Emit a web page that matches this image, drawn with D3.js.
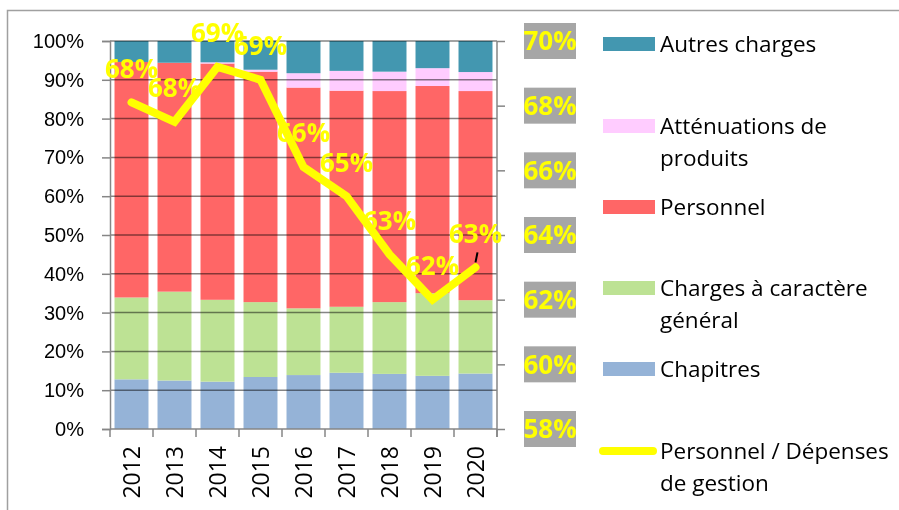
<!DOCTYPE html>
<html>
<head>
<meta charset="utf-8">
<script src="https://cdn.jsdelivr.net/npm/d3@7"></script>
<style>
  body { margin: 0; background: #fff; }
  svg { display: block; font-family: "Open Sans", sans-serif; }
</style>
</head>
<body>
<div id="container"></div>
<script>
const width = 899;
const height = 510;

// data (percent of total)
const years = ["2012", "2013", "2014", "2015", "2016", "2017", "2018", "2019", "2020"];
const chapitres = [12.8, 12.5, 12.2, 13.4, 13.9, 14.5, 14.2, 13.7, 14.3];
const chargesGeneral = [21.1, 22.9, 21.1, 19.3, 17.2, 17.0, 18.5, 21.3, 18.9];
const personnel = [60.7, 59.0, 60.9, 59.4, 56.9, 55.7, 54.4, 53.4, 53.9];
const attenuations = [0, 0, 0.3, 0.5, 3.7, 5.1, 5.0, 4.6, 4.9];
const autres = [5.4, 5.6, 5.5, 7.4, 8.3, 7.7, 7.9, 7.0, 8.0];
// Personnel / Dépenses de gestion (right axis)
const ratio = [68.1, 67.5, 69.2, 68.8, 66.1, 65.2, 63.4, 62.0, 63.0];

const leftTicks = [0, 10, 20, 30, 40, 50, 60, 70, 80, 90, 100];
const rightTicks = [58, 60, 62, 64, 66, 68, 70];

const seriesKeys = ["Chapitres", "Charges à caractère général", "Personnel", "Atténuations de produits", "Autres charges"];
const seriesColors = ["#95b3d7", "#bde294", "#ff6666", "#ffccff", "#4397b0"];
const lineColor = "#ffff00";

const table = years.map((y, i) => ({
    year: y,
    "Chapitres": chapitres[i],
    "Charges à caractère général": chargesGeneral[i],
    "Personnel": personnel[i],
    "Atténuations de produits": attenuations[i],
    "Autres charges": autres[i]
}));

const plot = { left: 110, right: 497, top: 41, bottom: 429 };

const x = d3.scaleBand()
    .domain(years)
    .range([plot.left, plot.right])
    .paddingInner(0.21)
    .paddingOuter(0.105);
const y = d3.scaleLinear().domain([0, 100]).range([plot.bottom, plot.top]);
const y2 = d3.scaleLinear().domain([58, 70]).range([plot.bottom, plot.top]);
const color = d3.scaleOrdinal().domain(seriesKeys).range(seriesColors);

const svg = d3.select("#container").append("svg")
    .attr("width", width)
    .attr("height", height);

// outer frame
svg.append("rect")
    .attr("x", 7.5).attr("y", 10.5)
    .attr("width", width + 20).attr("height", height + 20)
    .attr("fill", "none")
    .attr("stroke", "#a0a0a0")
    .attr("stroke-width", 1.5);

// stacked bars
const stacked = d3.stack().keys(seriesKeys)(table);
svg.append("g")
    .selectAll("g")
    .data(stacked)
    .join("g")
    .attr("fill", d => color(d.key))
    .selectAll("rect")
    .data(d => d)
    .join("rect")
    .attr("x", d => x(d.data.year))
    .attr("y", d => y(d[1]))
    .attr("width", x.bandwidth())
    .attr("height", d => y(d[0]) - y(d[1]));

// gridlines drawn over the bars
svg.append("g")
    .selectAll("line")
    .data(leftTicks.slice(1))
    .join("line")
    .attr("x1", plot.left).attr("x2", plot.right)
    .attr("y1", d => y(d)).attr("y2", d => y(d))
    .attr("stroke", "#858585")
    .attr("stroke-width", 1.5)
    .style("mix-blend-mode", "multiply");

// left axis
const yaxis = d3.axisLeft(y)
    .tickValues(leftTicks)
    .tickFormat(d => d + "%")
    .tickSize(8)
    .tickPadding(18);
const gy = svg.append("g")
    .attr("transform", "translate(" + plot.left + ",0)")
    .call(yaxis);
gy.selectAll("text").style("font-size", "20px").attr("fill", "#000");

// bottom axis, ticks at band edges
const step = x.step();
const edges = d3.range(years.length + 1).map(i => plot.left + i * step);
const gx = svg.append("g");
gx.append("line")
    .attr("x1", plot.left).attr("x2", plot.right)
    .attr("y1", plot.bottom).attr("y2", plot.bottom);
gx.selectAll(".tk")
    .data(edges)
    .join("line")
    .attr("class", "tk")
    .attr("x1", d => d).attr("x2", d => d)
    .attr("y1", plot.bottom).attr("y2", plot.bottom + 8);
gx.selectAll("line").attr("stroke", "#868686").attr("stroke-width", 1.5);
gx.selectAll("text")
    .data(years)
    .join("text")
    .attr("transform", d => "translate(" + (x(d) + x.bandwidth() / 2) + "," + (plot.bottom + 17) + ") rotate(-90)")
    .attr("text-anchor", "end")
    .attr("dy", "0.35em")
    .style("font-size", "23px")
    .text(d => d);

// right axis
const y2axis = d3.axisRight(y2)
    .tickValues(rightTicks)
    .tickFormat(d => d + "%")
    .tickSize(8);
const gy2 = svg.append("g")
    .attr("transform", "translate(" + plot.right + ",0)")
    .call(y2axis);
gy2.select(".domain").attr("d", "M0," + plot.top + "V" + (plot.bottom + 8));
gy2.selectAll("text").remove();
[gy, gy2].forEach(g => {
    g.selectAll(".domain").attr("stroke", "#868686").attr("stroke-width", 1.5);
    g.selectAll(".tick line").attr("stroke", "#868686").attr("stroke-width", 1.5);
});
const rl = svg.append("g").selectAll("g")
    .data(rightTicks)
    .join("g")
    .attr("transform", d => "translate(550," + y2(d) + ")");
rl.append("rect")
    .attr("x", -26).attr("y", -18)
    .attr("width", 52).attr("height", 36)
    .attr("fill", "#a6a6a6");
rl.append("text")
    .attr("text-anchor", "middle")
    .attr("dy", "0.36em")
    .attr("fill", lineColor)
    .style("font-size", "26px")
    .style("font-weight", "bold")
    .text(d => d + "%");

// ratio line
const line = d3.line()
    .x((d, i) => x(years[i]) + x.bandwidth() / 2)
    .y(d => y2(d));
svg.append("path")
    .datum(ratio)
    .attr("d", line)
    .attr("fill", "none")
    .attr("stroke", lineColor)
    .attr("stroke-width", 8)
    .attr("stroke-linecap", "round")
    .attr("stroke-linejoin", "miter");

// little leader mark near the last point
const lastX = x(years[years.length - 1]) + x.bandwidth() / 2;
const lastY = y2(ratio[ratio.length - 1]);
svg.append("line")
    .attr("x1", lastX + 2).attr("y1", lastY - 15)
    .attr("x2", lastX).attr("y2", lastY - 5)
    .attr("stroke", "#000")
    .attr("stroke-width", 2);

// data labels
svg.append("g")
    .selectAll("text")
    .data(ratio)
    .join("text")
    .attr("x", (d, i) => x(years[i]) + x.bandwidth() / 2)
    .attr("y", d => y2(d) - 34)
    .attr("dy", "0.36em")
    .attr("text-anchor", "middle")
    .attr("fill", lineColor)
    .style("font-size", "26px")
    .style("font-weight", "bold")
    .text(d => Math.round(d) + "%");

// legend
const legendItems = [
    { key: "Autres charges", lines: ["Autres charges"], cy: 44 },
    { key: "Atténuations de produits", lines: ["Atténuations de", "produits"], cy: 126 },
    { key: "Personnel", lines: ["Personnel"], cy: 207 },
    { key: "Charges à caractère général", lines: ["Charges à caractère", "général"], cy: 288 },
    { key: "Chapitres", lines: ["Chapitres"], cy: 369 },
    { key: "line", lines: ["Personnel / Dépenses", "de gestion"], cy: 451 }
];
const lg = svg.append("g").selectAll("g")
    .data(legendItems)
    .join("g")
    .attr("transform", d => "translate(0," + d.cy + ")");
lg.filter(d => d.key !== "line").append("rect")
    .attr("x", 603).attr("y", -7)
    .attr("width", 52).attr("height", 14)
    .attr("fill", d => color(d.key));
lg.filter(d => d.key === "line").append("line")
    .attr("x1", 603).attr("x2", 653)
    .attr("stroke", lineColor)
    .attr("stroke-width", 8)
    .attr("stroke-linecap", "round");
lg.append("text")
    .attr("x", 660)
    .style("font-size", "22.5px")
    .attr("fill", "#000")
    .selectAll("tspan")
    .data(d => d.lines)
    .join("tspan")
    .attr("x", 660)
    .attr("dy", (d, i) => i === 0 ? "0.36em" : "32px")
    .text(d => d);
</script>
</body>
</html>
